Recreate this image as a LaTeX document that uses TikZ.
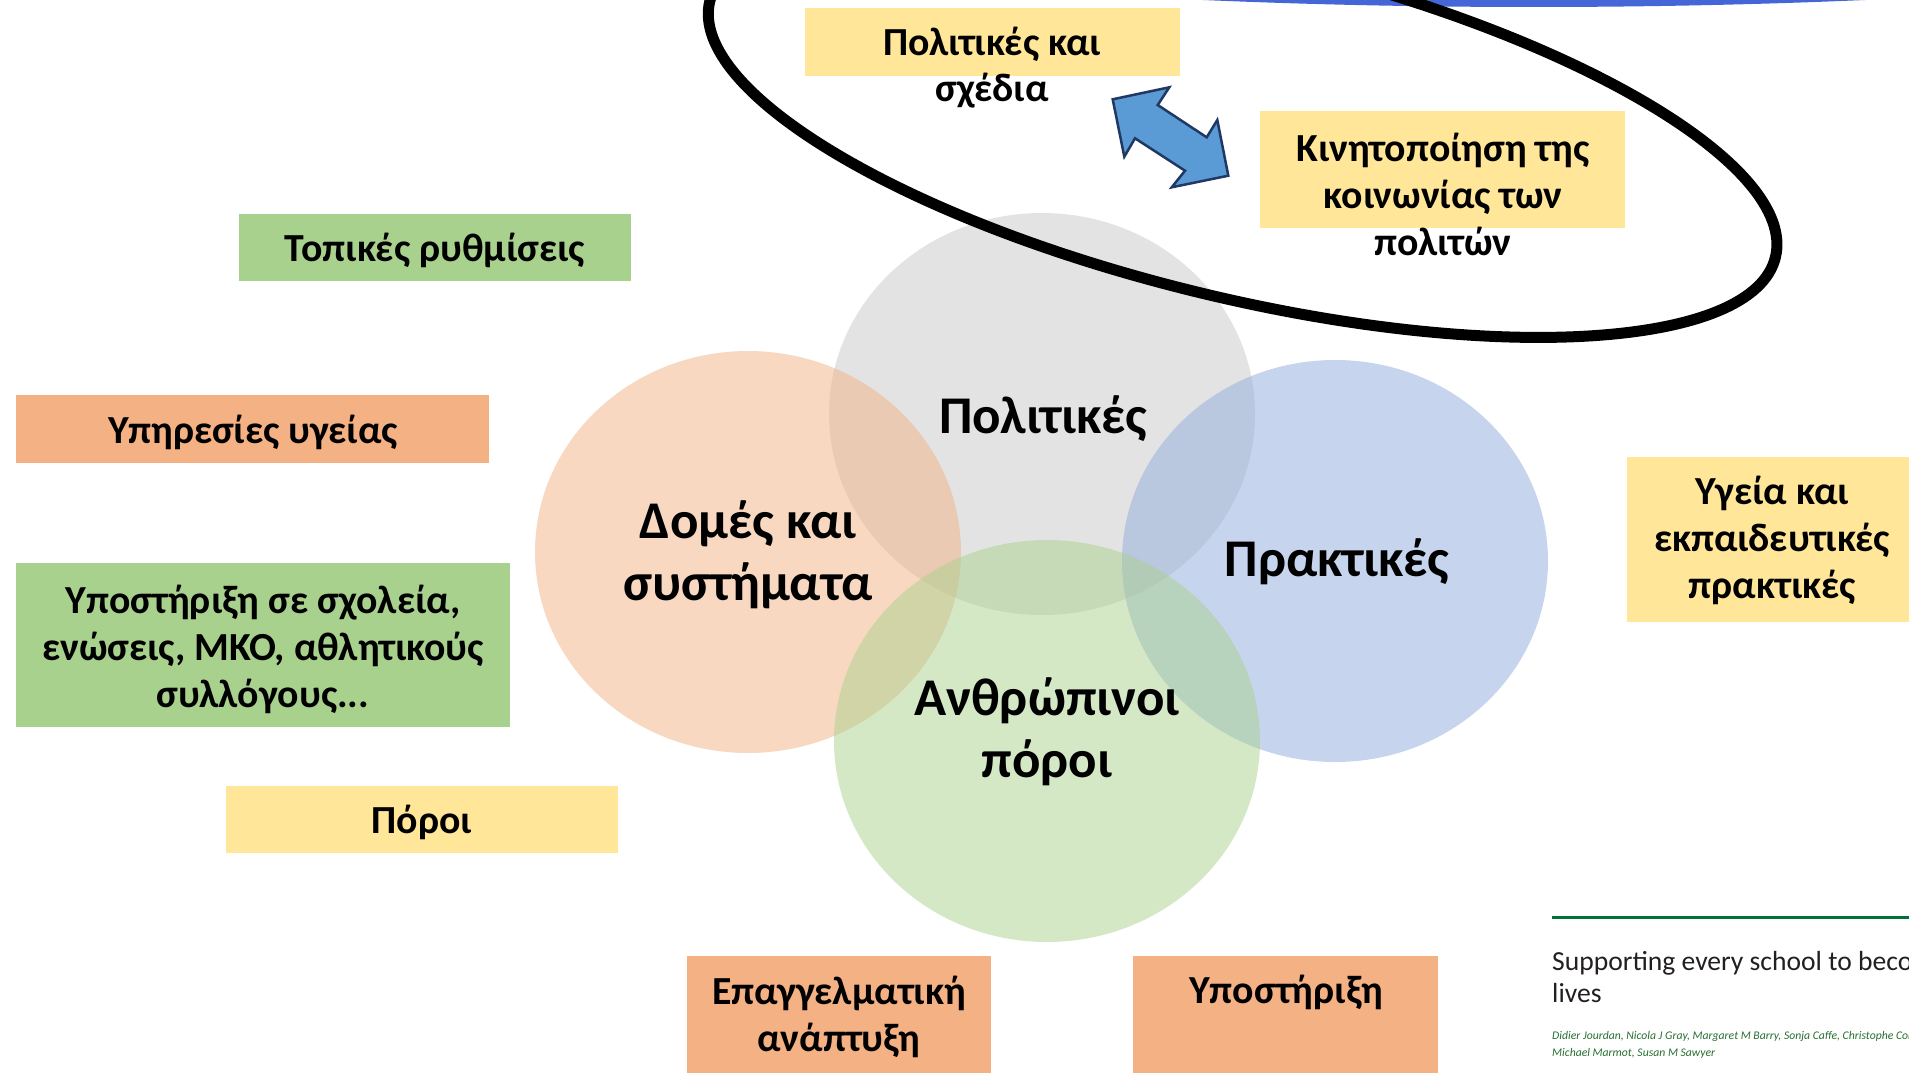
\documentclass[tikz,border=0pt]{standalone}
\usepackage{fontspec}
\setmainfont{Carlito}
\usetikzlibrary{shapes.geometric}
\definecolor{boxyellow}{RGB}{255,230,153}
\definecolor{boxgreen}{RGB}{169,209,142}
\definecolor{boxorange}{RGB}{244,177,131}
\definecolor{cgray}{RGB}{200,200,200}
\definecolor{corange}{RGB}{244,177,131}
\definecolor{cblue}{RGB}{143,170,220}
\definecolor{cgreen}{RGB}{169,209,142}
\definecolor{arrowfill}{RGB}{91,155,213}
\definecolor{arrowline}{RGB}{31,56,100}
\definecolor{topblue}{RGB}{68,102,214}
\definecolor{lancetgreen}{RGB}{0,112,60}
\definecolor{authgreen}{RGB}{40,110,50}
\definecolor{titlegray}{RGB}{35,31,32}
\begin{document}
\begin{tikzpicture}[x=1pt,y=-1pt,
  box/.style={rectangle, inner sep=0pt, draw=none},
  boxtext/.style={inner sep=0pt, align=center, anchor=base, font=\bfseries\fontsize{39.8}{47}\selectfont},
  circ/.style={ellipse, inner sep=0pt, minimum width=426pt, minimum height=402pt, fill opacity=0.5},
  circtext/.style={inner sep=0pt, align=center, anchor=base, font=\bfseries\fontsize{53}{62.5}\selectfont},
]
\useasboundingbox (0,0) rectangle (1909,1073);
\begin{scope}
\clip (0,0) rectangle (1909,1073);
% blue arc at top
\fill[topblue] (1534,-193) ellipse [x radius=1258, y radius=200];

% circles
\node[circ, fill=cgray] (cpol) at (1042,414) {};
\node[circ, fill=corange] (cdom) at (748,552) {};
\node[circ, fill=cblue] (cpra) at (1335,561) {};
\node[circ, fill=cgreen] (cant) at (1047,741) {};

% black loop (tilted ellipse)
\coordinate (loopc) at (1242.7,129.2);
\draw[line width=11pt, rotate around={-13.5:(loopc)}] (loopc) ellipse [x radius=548, y radius=169];
\end{scope}

% circle texts (base = last line)
\node[circtext] (tpol) at (1043,433) {Πολιτικές};
\node[circtext] (tdom) at (748,600.5) {Δομές και\\συστήματα};
\node[circtext] (tpra) at (1337,576) {Πρακτικές};
\node[circtext] (tant) at (1047,777.5) {Ανθρώπινοι\\πόροι};

% boxes
\node[box, fill=boxyellow, minimum width=375pt, minimum height=68pt] (polbox) at (992.5,42) {};
\node[boxtext] (poltext) at (992,102) {Πολιτικές και\\σχέδια};
\node[box, fill=boxyellow, minimum width=365pt, minimum height=117pt] (mobbox) at (1442.5,169.5) {};
\node[boxtext] (mobtext) at (1443,255) {Κινητοποίηση της\\κοινωνίας των\\πολιτών};
\node[box, fill=boxgreen, minimum width=392pt, minimum height=67pt] (locbox) at (435,247.5) {};
\node[boxtext] (loctext) at (435,261) {Τοπικές ρυθμίσεις};
\node[box, fill=boxorange, minimum width=473pt, minimum height=68pt] (hlthbox) at (252.5,429) {};
\node[boxtext] (hlthtext) at (253,443) {Υπηρεσίες υγείας};
\node[box, fill=boxgreen, minimum width=494pt, minimum height=164pt] (sschbox) at (263,645) {};
\node[boxtext] (sschtext) at (263,707) {Υποστήριξη σε σχολεία,\\ενώσεις, ΜΚΟ, αθλητικούς\\συλλόγους...};
\node[box, fill=boxyellow, minimum width=392pt, minimum height=67pt] (resbox) at (422,819.5) {};
\node[boxtext] (restext) at (422,833) {Πόροι};
\node[box, fill=boxorange, minimum width=304pt, minimum height=124pt] (devbox) at (839,1018) {};
\node[boxtext] (devtext) at (839,1051) {Επαγγελματική\\ανάπτυξη};
\node[box, fill=boxorange, minimum width=305pt, minimum height=124pt] (supbox) at (1285.5,1018) {};
\node[boxtext] (suptext) at (1286,1003) {Υποστήριξη};
\node[box, fill=boxyellow, minimum width=290pt, minimum height=165pt] (hebox) at (1772,539.5) {};
\node[boxtext] (hetext) at (1772,598) {Υγεία και\\εκπαιδευτικές\\πρακτικές};

% double arrow
\draw[fill=arrowfill, draw=arrowline, line width=2.5pt, line join=miter]
 (1112.7,99.3) -- (1169.3,87.3) -- (1157.7,105) -- (1206.7,137.3) -- (1217.3,120)
 -- (1228.3,175.7) -- (1171.7,187.3) -- (1185,170.7) -- (1135,138.3) -- (1124.3,156.7) -- cycle;

% citation
\coordinate (rulestart) at (1552,917);
\coordinate (ruleend) at (1909,917);
\draw[lancetgreen, line width=3pt] (rulestart) -- (ruleend);
\node[anchor=base west, inner sep=0pt, align=left, text=titlegray, font=\fontsize{27.6}{32}\selectfont] (title) at (1552,1002) {Supporting every school to beco\\lives};
\node[anchor=base west, inner sep=0pt, align=left, text=authgreen, font=\itshape\fontsize{11.7}{17}\selectfont] (authors) at (1552,1056) {Didier Jourdan, Nicola J Gray, Margaret M Barry, Sonja Caffe, Christophe Cor\\Michael Marmot, Susan M Sawyer};
\end{tikzpicture}
\end{document}
